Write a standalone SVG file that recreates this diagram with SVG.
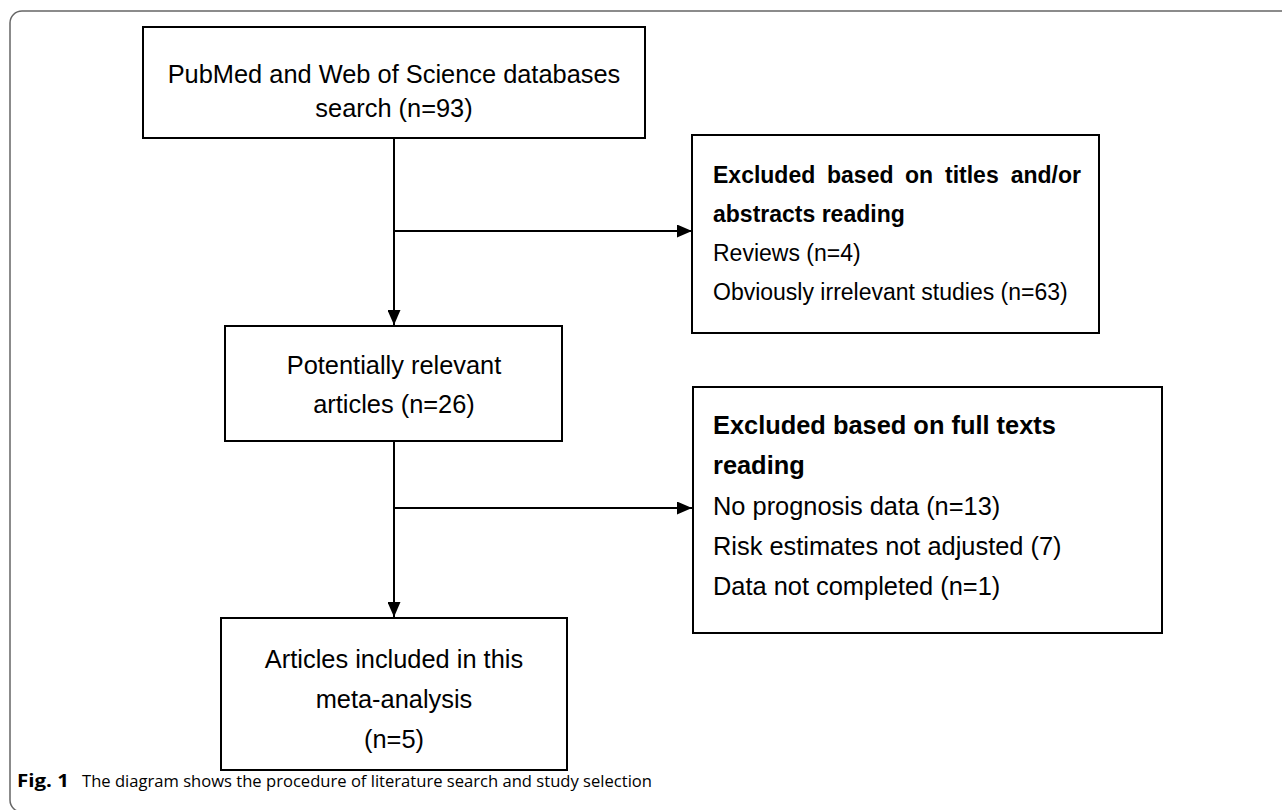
<svg xmlns="http://www.w3.org/2000/svg" width="1282" height="810" viewBox="0 0 1282 810">
<style>
.box{fill:#fff;stroke:#000;stroke-width:2}
.t{font-family:"Liberation Sans",Arial,sans-serif;fill:#000}
.c{font-size:25.4px;text-anchor:middle}
.s1{font-size:23px}
.s2{font-size:25.4px}
.b{font-weight:bold}
.conn{stroke:#000;stroke-width:2;fill:none}
.cap{font-family:"Open Sans","Noto Sans",sans-serif;font-size:17px;fill:#000}
</style>
<defs>
<marker id="ah" markerUnits="userSpaceOnUse" markerWidth="16" markerHeight="13" refX="15" refY="6.5" orient="auto">
<path d="M0,0 L15,6.5 L0,13 z" fill="#000"/>
</marker>
</defs>
<rect width="1282" height="810" fill="#fff"/>
<path d="M1282 11 H22 A12 12 0 0 0 10 23 V800 A12 12 0 0 0 22 812" fill="none" stroke="#666" stroke-width="1.5"/>

<g id="connectors">
<line class="conn" x1="394" y1="138" x2="394" y2="325" marker-end="url(#ah)"/>
<line class="conn" x1="394" y1="231" x2="692" y2="231" marker-end="url(#ah)"/>
<line class="conn" x1="394" y1="441" x2="394" y2="617" marker-end="url(#ah)"/>
<line class="conn" x1="394" y1="508" x2="692" y2="508" marker-end="url(#ah)"/>
</g>

<g id="n-search">
<rect class="box" x="143" y="27" width="502" height="111"/>
<text class="t c" x="394" y="83">PubMed and Web of Science databases</text>
<text class="t c" x="394" y="117">search (n=93)</text>
</g>

<g id="n-excl1">
<rect class="box" x="692" y="135" width="407" height="198"/>
<text class="t s1 b" y="183"><tspan x="713">Excluded</tspan><tspan x="827">based</tspan><tspan x="905">on</tspan><tspan x="945">titles</tspan></text>
<text class="t s1 b" x="1081" y="183" text-anchor="end">and/or</text>
<text class="t s1 b" x="713" y="222">abstracts reading</text>
<text class="t s1" x="713" y="261">Reviews (n=4)</text>
<text class="t s1" x="713" y="300">Obviously irrelevant studies (n=63)</text>
</g>

<g id="n-relevant">
<rect class="box" x="225" y="326" width="337" height="115"/>
<text class="t c" x="394" y="374">Potentially relevant</text>
<text class="t c" x="394" y="413">articles (n=26)</text>
</g>

<g id="n-excl2">
<rect class="box" x="693" y="387" width="469" height="246"/>
<text class="t s2 b" x="713" y="434">Excluded based on full texts</text>
<text class="t s2 b" x="713" y="474">reading</text>
<text class="t s2" x="713" y="515">No prognosis data (n=13)</text>
<text class="t s2" x="713" y="555">Risk estimates not adjusted (7)</text>
<text class="t s2" x="713" y="595">Data not completed (n=1)</text>
</g>

<g id="n-included">
<rect class="box" x="221" y="618" width="346" height="152"/>
<text class="t c" x="394" y="668">Articles included in this</text>
<text class="t c" x="394" y="708">meta-analysis</text>
<text class="t c" x="394" y="748">(n=5)</text>
</g>

<g id="caption">
<text class="cap" x="17" y="787" font-weight="bold" textLength="52" lengthAdjust="spacingAndGlyphs">Fig. 1</text>
<text class="cap" x="82" y="787" textLength="570" lengthAdjust="spacingAndGlyphs">The diagram shows the procedure of literature search and study selection</text>
</g>
</svg>
